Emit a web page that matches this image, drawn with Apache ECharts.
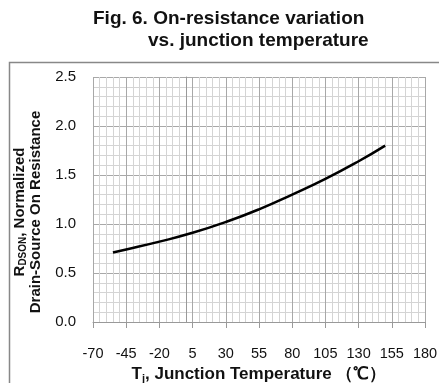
<!DOCTYPE html>
<html><head><meta charset="utf-8">
<script src="https://cdn.jsdelivr.net/npm/echarts@6/dist/echarts.min.js"></script>
<style>html,body{margin:0;padding:0;background:#fff}#c{width:439px;height:383px}</style>
</head><body><div id="c"></div>
<script>
var temps = [-55, -45, -20, 5, 30, 55, 80, 105, 130, 150];
var rdson = [0.71, 0.74, 0.82, 0.91, 1.02, 1.15, 1.30, 1.46, 1.64, 1.80];
var xTicks = [-70, 180, 25];
var yTicks = [0, 2.5, 0.5];
var FONT = '"Liberation Sans", Arial, sans-serif';
var chart = echarts.init(document.getElementById('c'));
chart.setOption({
  backgroundColor: '#fff',
  animation: false,
  title: [
    {text: 'Fig. 6. On-resistance variation', left: 88, top: 4,
     textStyle: {fontFamily: FONT, fontSize: 19, fontWeight: 'bold', color: '#111'}},
    {text: 'vs. junction temperature', left: 143, top: 26,
     textStyle: {fontFamily: FONT, fontSize: 19, fontWeight: 'bold', color: '#111'}}
  ],
  graphic: [{type: 'rect', shape: {x: 9.5, y: 62.5, width: 600, height: 500},
    style: {fill: 'none', stroke: '#888', lineWidth: 1.5}, silent: true, z: -1}],
  grid: {left: 93, right: 14, top: 77, bottom: 61, outerBoundsMode: 'none', containLabel: false},
  xAxis: {
    type: 'value', min: xTicks[0], max: xTicks[1], interval: xTicks[2],
    axisLine: {show: true, lineStyle: {color: '#999'}},
    axisTick: {show: true, length: 6, lineStyle: {color: '#999'}},
    minorTick: {show: false, splitNumber: 5},
    axisLabel: {margin: 24, fontFamily: FONT, fontSize: 14.5, color: '#111'},
    splitLine: {show: true, lineStyle: {color: '#a8a8a8', width: 1}},
    minorSplitLine: {show: true, lineStyle: {color: '#d4d4d4', width: 1}},
    name: '{b|T}{s|j}{b|, Junction Temperature （℃）}',
    nameLocation: 'middle', nameGap: 40,
    nameTextStyle: {rich: {
      b: {fontFamily: FONT, fontSize: 17, fontWeight: 'bold', color: '#111'},
      s: {fontFamily: FONT, fontSize: 11, fontWeight: 'bold', color: '#111', padding: [9, 0, 0, 0]}
    }}
  },
  yAxis: {
    type: 'value', min: yTicks[0], max: yTicks[1], interval: yTicks[2],
    axisLine: {show: true, lineStyle: {color: '#999'}},
    axisTick: {show: false},
    minorTick: {show: false, splitNumber: 5},
    axisLabel: {margin: 17, fontFamily: FONT, fontSize: 15, color: '#111',
      formatter: function (v) { return v.toFixed(1); }},
    splitLine: {show: true, lineStyle: {color: '#a8a8a8', width: 1}},
    minorSplitLine: {show: true, lineStyle: {color: '#d4d4d4', width: 1}},
    name: '{b|R}{s|DSON}{b|, Normalized}\n{b|Drain-Source On Resistance}',
    nameLocation: 'middle', nameGap: 46, nameRotate: 90,
    nameTextStyle: {padding: [0, 25, 0, 0], lineHeight: 16, rich: {
      b: {fontFamily: FONT, fontSize: 15, fontWeight: 'bold', color: '#111', lineHeight: 16},
      s: {fontFamily: FONT, fontSize: 10, fontWeight: 'bold', color: '#111', lineHeight: 16, padding: [7, 0, 0, 0]}
    }}
  },
  series: [{
    type: 'line', smooth: true, showSymbol: false,
    data: temps.map(function (t, i) { return [t, rdson[i]]; }),
    lineStyle: {color: '#000', width: 2.5}
  }]
});
</script></body></html>
